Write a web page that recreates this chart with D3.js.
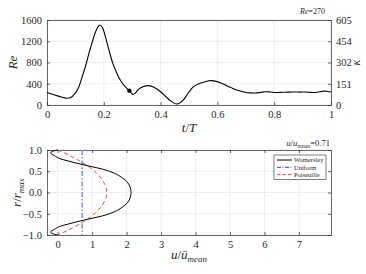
<!DOCTYPE html>
<html>
<head>
<meta charset="utf-8">
<script src="https://cdn.jsdelivr.net/npm/d3@7"></script>
<style>
  body { margin: 0; background: #fff; }
  svg text { font-family: "Liberation Serif", serif; fill: #262626; }
</style>
</head>
<body>
<div id="graph"></div>
<script>
// Données

// Courbe du haut : Re en fonction de t/T
const tValues = [0.000, 0.028, 0.050, 0.068, 0.083, 0.099, 0.112, 0.122, 0.135, 0.146,
  0.158, 0.169, 0.178, 0.186, 0.195, 0.203, 0.212, 0.222, 0.232, 0.245,
  0.258, 0.275, 0.290, 0.302, 0.312, 0.322, 0.340, 0.358, 0.375, 0.399,
  0.420, 0.434, 0.446, 0.457, 0.468, 0.481, 0.498, 0.516, 0.535, 0.551,
  0.570, 0.581, 0.595, 0.610, 0.628, 0.646, 0.663, 0.680, 0.698, 0.716,
  0.734, 0.752, 0.769, 0.787, 0.804, 0.822, 0.840, 0.857, 0.875, 0.893,
  0.910, 0.928, 0.945, 0.962, 0.975, 0.988, 1.000];
const reValues = [235, 190, 150, 128, 140, 220, 340, 500, 720, 940,
  1160, 1350, 1460, 1505, 1460, 1340, 1160, 960, 780, 610,
  470, 345, 270, 200, 230, 295, 350, 365, 340, 255,
  150, 82, 40, 18, 40, 100, 230, 345, 400, 430,
  455, 458, 445, 420, 375, 333, 290, 262, 240, 228,
  226, 238, 250, 245, 235, 238, 240, 243, 245, 243,
  245, 238, 235, 250, 262, 255, 245];

const markerT = 0.290;
const markerRe = 270;

const reTicks = [0, 400, 800, 1200, 1600];
const kappaTicks = [0, 151, 302, 454, 605];
const tTicks = [0, 0.2, 0.4, 0.6, 0.8, 1];

// Profils de vitesse du bas
const rValues = [1.0, 0.975, 0.95, 0.925, 0.9, 0.875, 0.85, 0.8, 0.75, 0.7,
  0.65, 0.6, 0.55, 0.5, 0.45, 0.4, 0.3, 0.2, 0.1, 0.0,
  -0.1, -0.2, -0.3, -0.4, -0.45, -0.5, -0.55, -0.6, -0.65, -0.7,
  -0.75, -0.8, -0.85, -0.875, -0.9, -0.925, -0.95, -0.975, -1.0];
const womersley = [0, -0.13, -0.19, -0.2, -0.17, -0.12, -0.06, 0.05, 0.27, 0.5,
  0.76, 1.03, 1.3, 1.5, 1.65, 1.77, 1.95, 2.06, 2.11, 2.13,
  2.11, 2.06, 1.95, 1.77, 1.65, 1.5, 1.3, 1.03, 0.76, 0.5,
  0.27, 0.05, -0.06, -0.12, -0.17, -0.2, -0.19, -0.13, 0];
const poiseuille = [0, 0.07, 0.14, 0.21, 0.27, 0.33, 0.39, 0.51, 0.62, 0.72,
  0.82, 0.91, 0.99, 1.07, 1.13, 1.19, 1.29, 1.36, 1.41, 1.42,
  1.41, 1.36, 1.29, 1.19, 1.13, 1.07, 0.99, 0.91, 0.82, 0.72,
  0.62, 0.51, 0.39, 0.33, 0.27, 0.21, 0.14, 0.07, 0];
const uniformU = 0.71;

const uTicks = [0, 1, 2, 3, 4, 5, 6, 7];
const rTicks = [-1, -0.5, 0, 0.5, 1];

const legendLabels = ["Womersley", "Uniform", "Poiseuille"];

//---------------------------------------------------------------------------------------

const width = 366;
const height = 274;
const serif = "'Liberation Serif', serif";

const svg = d3.select("#graph")
  .append("svg")
  .attr("width", width)
  .attr("height", height)
  .style("background", "#fff");

const gridCol = "#e3e3e3";
const axisCol = "#262626";

// Graphique du haut
const topBox = { x0: 47, x1: 331, y0: 20, y1: 105 };

const x1 = d3.scaleLinear().domain([0, 1]).range([topBox.x0, topBox.x1]);
const y1 = d3.scaleLinear().domain([0, 1600]).range([topBox.y1, topBox.y0]);
const yK = d3.scaleLinear().domain([0, 605]).range([topBox.y1, topBox.y0]);

const gTop = svg.append("g");

// grille
gTop.selectAll(".gx").data(tTicks).join("line")
  .attr("x1", d => x1(d)).attr("x2", d => x1(d))
  .attr("y1", topBox.y0).attr("y2", topBox.y1)
  .attr("stroke", gridCol).attr("stroke-width", 0.6);
gTop.selectAll(".gy").data(reTicks).join("line")
  .attr("x1", topBox.x0).attr("x2", topBox.x1)
  .attr("y1", d => y1(d)).attr("y2", d => y1(d))
  .attr("stroke", gridCol).attr("stroke-width", 0.6);

// axes
gTop.append("g")
  .attr("transform", `translate(0,${topBox.y1})`)
  .call(d3.axisBottom(x1).tickValues(tTicks).tickSizeInner(-3).tickSizeOuter(0).tickPadding(6).tickFormat(d3.format("")));
gTop.append("g")
  .attr("transform", `translate(0,${topBox.y0})`)
  .call(d3.axisTop(x1).tickValues(tTicks).tickSizeInner(0).tickSizeOuter(0).tickFormat(""));
gTop.append("g")
  .attr("transform", `translate(${topBox.x0},0)`)
  .call(d3.axisLeft(y1).tickValues(reTicks).tickSizeInner(-3).tickSizeOuter(0).tickPadding(5).tickFormat(d3.format("d")));
gTop.append("g")
  .attr("transform", `translate(${topBox.x1},0)`)
  .call(d3.axisRight(yK).tickValues(kappaTicks).tickSizeInner(-3).tickSizeOuter(0).tickPadding(5).tickFormat(d3.format("d")));

// courbe
const topData = tValues.map((t, i) => ({ t: t, re: reValues[i] }));
gTop.append("path")
  .datum(topData)
  .attr("fill", "none")
  .attr("stroke", "#000")
  .attr("stroke-width", 1.1)
  .attr("d", d3.line().x(d => x1(d.t)).y(d => y1(d.re)).curve(d3.curveCatmullRom));

gTop.append("circle")
  .attr("cx", x1(markerT)).attr("cy", y1(markerRe))
  .attr("r", 2.2).attr("fill", "#000");

// titraille
gTop.append("text")
  .attr("transform", `translate(17,${(topBox.y0 + topBox.y1) / 2}) rotate(-90)`)
  .attr("text-anchor", "middle")
  .attr("font-size", "13px").attr("font-style", "italic")
  .text("Re");
gTop.append("text")
  .attr("transform", `translate(360,${(topBox.y0 + topBox.y1) / 2}) rotate(-90)`)
  .attr("text-anchor", "middle")
  .attr("font-size", "12px").attr("font-style", "italic")
  .text("κ");
const tLab = gTop.append("text")
  .attr("x", (topBox.x0 + topBox.x1) / 2).attr("y", 132)
  .attr("text-anchor", "middle")
  .attr("font-size", "13px");
tLab.append("tspan").attr("font-style", "italic").text("t");
tLab.append("tspan").text("/");
tLab.append("tspan").attr("font-style", "italic").text("T");

const reLab = gTop.append("text")
  .attr("x", 325).attr("y", 14)
  .attr("text-anchor", "end")
  .attr("font-size", "8px");
reLab.append("tspan").attr("font-style", "italic").text("Re");
reLab.append("tspan").text("=270");

//---------------------------------------------------------------------------------------

// Graphique du bas
const botBox = { x0: 47, x1: 331, y0: 150, y1: 235 };

const x2 = d3.scaleLinear().domain([-0.31, 7.93]).range([botBox.x0, botBox.x1]);
const y2 = d3.scaleLinear().domain([-1, 1]).range([botBox.y1, botBox.y0]);

const gBot = svg.append("g");

gBot.selectAll(".gx").data(uTicks).join("line")
  .attr("x1", d => x2(d)).attr("x2", d => x2(d))
  .attr("y1", botBox.y0).attr("y2", botBox.y1)
  .attr("stroke", gridCol).attr("stroke-width", 0.6);
gBot.selectAll(".gy").data(rTicks).join("line")
  .attr("x1", botBox.x0).attr("x2", botBox.x1)
  .attr("y1", d => y2(d)).attr("y2", d => y2(d))
  .attr("stroke", gridCol).attr("stroke-width", 0.6);

gBot.append("g")
  .attr("transform", `translate(0,${botBox.y1})`)
  .call(d3.axisBottom(x2).tickValues(uTicks).tickSizeInner(-3).tickSizeOuter(0).tickPadding(6));
gBot.append("g")
  .attr("transform", `translate(0,${botBox.y0})`)
  .call(d3.axisTop(x2).tickValues(uTicks).tickSizeInner(-3).tickSizeOuter(0).tickFormat(""));
gBot.append("g")
  .attr("transform", `translate(${botBox.x0},0)`)
  .call(d3.axisLeft(y2).tickValues(rTicks).tickSizeInner(-3).tickSizeOuter(0).tickPadding(5).tickFormat(d3.format(".1f")));
gBot.append("g")
  .attr("transform", `translate(${botBox.x1},0)`)
  .call(d3.axisRight(y2).tickValues(rTicks).tickSizeInner(-3).tickSizeOuter(0).tickFormat(""));

const profLine = d3.line().x(d => x2(d.u)).y(d => y2(d.r)).curve(d3.curveCatmullRom);

// Poiseuille
gBot.append("path")
  .datum(rValues.map((r, i) => ({ r: r, u: poiseuille[i] })))
  .attr("fill", "none")
  .attr("stroke", "#ff3b3b")
  .attr("stroke-width", 1)
  .attr("stroke-dasharray", "4,3")
  .attr("d", profLine);

// Uniforme
gBot.append("line")
  .attr("x1", x2(uniformU)).attr("x2", x2(uniformU))
  .attr("y1", y2(1)).attr("y2", y2(-1))
  .attr("stroke", "#8c8cff")
  .attr("stroke-width", 1.6)
  .attr("stroke-dasharray", "5,2,1.5,2");

// Womersley
gBot.append("path")
  .datum(rValues.map((r, i) => ({ r: r, u: womersley[i] })))
  .attr("fill", "none")
  .attr("stroke", "#000")
  .attr("stroke-width", 1)
  .attr("d", profLine);

// titraille
const rLab = gBot.append("text")
  .attr("transform", `translate(21,${(botBox.y0 + botBox.y1) / 2}) rotate(-90)`)
  .attr("text-anchor", "middle")
  .attr("font-size", "13px");
rLab.append("tspan").attr("font-style", "italic").text("r");
rLab.append("tspan").text("/");
rLab.append("tspan").attr("font-style", "italic").text("r");
rLab.append("tspan").attr("font-style", "italic").attr("font-size", "9px").attr("dy", 3).text("max");

const uLab = gBot.append("text")
  .attr("x", (botBox.x0 + botBox.x1) / 2).attr("y", 259)
  .attr("text-anchor", "middle")
  .attr("font-size", "13px");
uLab.append("tspan").attr("font-style", "italic").text("u");
uLab.append("tspan").text("/");
uLab.append("tspan").attr("font-style", "italic").text("ū");
uLab.append("tspan").attr("font-style", "italic").attr("font-size", "9px").attr("dy", 3).text("mean");

const uRatio = gBot.append("text")
  .attr("x", 330).attr("y", 146)
  .attr("text-anchor", "end")
  .attr("font-size", "8.5px");
uRatio.append("tspan").attr("font-style", "italic").text("u");
uRatio.append("tspan").text("/");
uRatio.append("tspan").attr("font-style", "italic").text("u");
uRatio.append("tspan").attr("font-style", "italic").attr("font-size", "6px").attr("dy", 2).text("mean");
uRatio.append("tspan").attr("dy", -2).text("=0.71");

// Légende
const legendStyle = [
  { col: "#000", dash: null, w: 1 },
  { col: "#3333ff", dash: "4,1.5,1,1.5", w: 1 },
  { col: "#ff4444", dash: "3.5,2", w: 1 }
];
const lg = gBot.append("g").attr("transform", "translate(274,155)");
lg.append("rect")
  .attr("width", 52).attr("height", 24.5)
  .attr("fill", "#fff").attr("stroke", axisCol).attr("stroke-width", 0.6);
const lgItems = lg.selectAll(".item").data(legendLabels).join("g")
  .attr("transform", (d, i) => `translate(0,${5 + i * 7.3})`);
lgItems.append("line")
  .attr("x1", 3).attr("x2", 18)
  .attr("stroke", (d, i) => legendStyle[i].col)
  .attr("stroke-width", (d, i) => legendStyle[i].w)
  .attr("stroke-dasharray", (d, i) => legendStyle[i].dash);
lgItems.append("text")
  .attr("x", 20).attr("y", 2.3)
  .attr("font-size", "6.5px")
  .text(d => d);

// style des axes
svg.selectAll(".domain").attr("stroke", axisCol).attr("stroke-width", 0.7);
svg.selectAll(".tick line").attr("stroke", axisCol).attr("stroke-width", 0.7);
svg.selectAll("g[font-family]").attr("font-family", serif);
svg.selectAll(".tick text")
  .style("font-family", serif)
  .attr("font-size", "10.5px")
  .attr("fill", axisCol);
</script>
</body>
</html>
